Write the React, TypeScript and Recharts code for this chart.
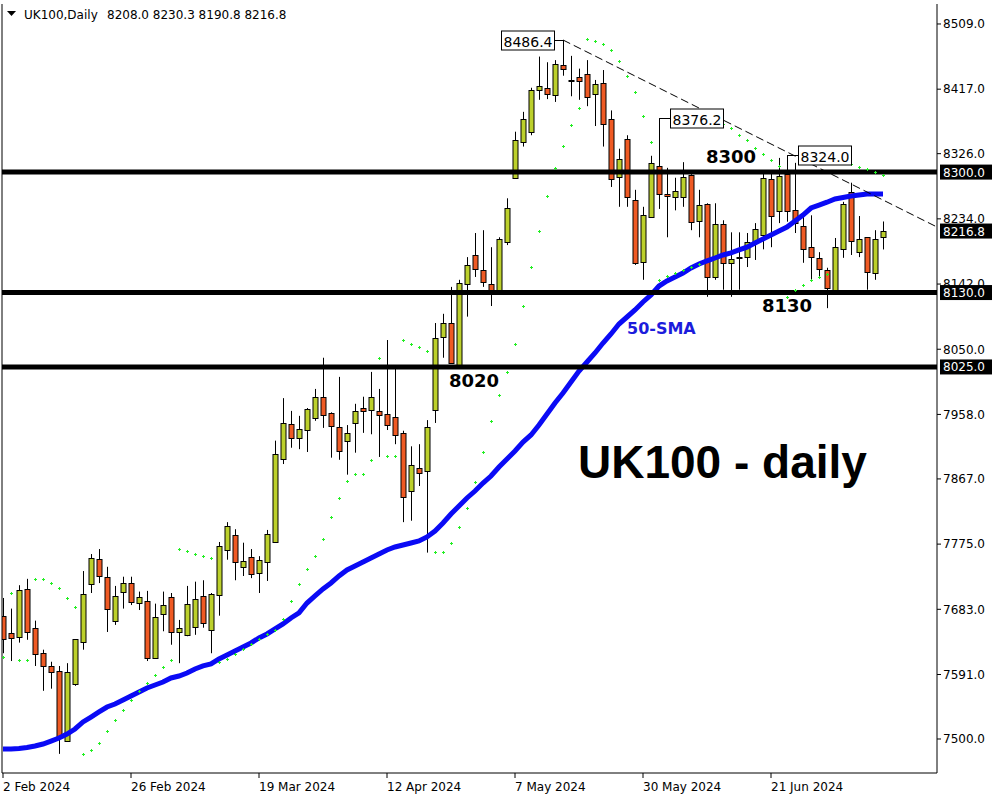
import React from 'react';
import {
  ComposedChart,
  Bar,
  Line,
  Scatter,
  XAxis,
  YAxis,
  ReferenceLine,
  ReferenceDot,
} from 'recharts';

// daily candles, 2 Feb 2024 onwards (one entry per trading day)
const opens = [
  7674, 7650, 7644, 7712, 7657, 7621, 7603, 7596, 7497, 7578,
  7637, 7720, 7754, 7729, 7667, 7708, 7720, 7692, 7695, 7614,
  7676, 7700, 7651, 7647, 7658, 7702, 7654, 7703, 7767, 7788,
  7743, 7757, 7734, 7750, 7778, 7895, 7945, 7926, 7936, 7954,
  7982, 7960, 7940, 7921, 7946, 7967, 7963, 7963, 7959, 7954,
  7932, 7850, 7882, 7878, 7964, 8067, 8087, 8028, 8142, 8183,
  8162, 8142, 8134, 8201, 8292, 8343, 8357, 8417, 8419, 8409,
  8451, 8430, 8434, 8439, 8410, 8426, 8375, 8293, 8347, 8261,
  8172, 8237, 8309, 8269, 8265, 8265, 8296, 8231, 8255, 8152,
  8227, 8172, 8180, 8180, 8201, 8211, 8290, 8245, 8297, 8247,
  8224, 8194, 8179, 8162, 8134, 8191, 8272, 8187, 8208, 8158,
  8208.0,
];
const highs = [
  7699, 7684, 7717, 7726, 7667, 7626, 7609, 7603, 7607, 7641,
  7737, 7761, 7768, 7743, 7716, 7729, 7729, 7708, 7709, 7691,
  7708, 7706, 7668, 7716, 7722, 7724, 7706, 7778, 7806, 7796,
  7777, 7768, 7758, 7795, 7921, 7981, 7963, 7956, 7967, 7994,
  8038, 7961, 8011, 7943, 7973, 7983, 8018, 7994, 8063, 8024,
  7935, 7913, 7916, 7950, 8087, 8100, 8138, 8148, 8180, 8214,
  8218, 8194, 8208, 8263, 8357, 8385, 8419, 8463, 8455, 8458,
  8486.4, 8464, 8446, 8458, 8430, 8444, 8387, 8333, 8352, 8275,
  8251, 8323, 8376.2, 8306, 8292, 8314, 8297, 8275, 8256, 8256,
  8232, 8215, 8215, 8214, 8228, 8299, 8299, 8320, 8324.0, 8313,
  8237, 8239, 8187, 8165, 8207, 8258, 8285, 8238, 8208, 8218,
  8230.3,
];
const lows = [
  7621, 7610, 7636, 7640, 7603, 7568, 7571, 7479, 7496, 7575,
  7626, 7706, 7720, 7651, 7661, 7684, 7689, 7682, 7610, 7613,
  7652, 7633, 7607, 7645, 7647, 7657, 7621, 7674, 7753, 7724,
  7730, 7727, 7706, 7723, 7778, 7888, 7911, 7909, 7905, 7949,
  7939, 7897, 7894, 7873, 7904, 7932, 7930, 7898, 7936, 7916,
  7806, 7808, 7857, 7763, 7946, 8038, 8031, 8028, 8096, 8152,
  8138, 8111, 8129, 8197, 8292, 8336, 8352, 8402, 8403, 8399,
  8436, 8407, 8402, 8393, 8365, 8336, 8279, 8251, 8251, 8169,
  8148, 8237, 8248, 8208, 8246, 8251, 8218, 8208, 8124, 8148,
  8134, 8124, 8134, 8166, 8176, 8191, 8194, 8228, 8230, 8214,
  8172, 8148, 8152, 8108, 8130, 8179, 8183, 8180, 8134, 8148,
  8190.8,
];
const closes = [
  7641, 7643, 7710, 7651, 7621, 7603, 7595, 7504, 7595, 7641,
  7705, 7756, 7730, 7684, 7702, 7720, 7693, 7700, 7614, 7672,
  7689, 7650, 7657, 7691, 7698, 7664, 7705, 7772, 7801, 7750,
  7751, 7733, 7753, 7789, 7902, 7946, 7925, 7938, 7966, 7983,
  7957, 7942, 7906, 7932, 7963, 7963, 7982, 7957, 7943, 7928,
  7842, 7887, 7875, 7940, 8066, 8087, 8031, 8144, 8169, 8163,
  8145, 8134, 8206, 8249, 8345, 8375, 8416, 8422, 8410, 8453,
  8446, 8429, 8429, 8406, 8424, 8368, 8290, 8319, 8265, 8172,
  8239, 8313, 8269, 8266, 8273, 8293, 8229, 8253, 8152, 8227,
  8172, 8178, 8178, 8201, 8220, 8292, 8238, 8295, 8245, 8228,
  8191, 8180, 8163, 8137, 8194, 8255, 8203, 8206, 8158, 8206,
  8216.8,
];
const sma50 = [
  7485.9, 7485.9, 7486.6, 7488.0, 7490.1, 7492.9, 7497.1, 7501.4, 7507.0, 7514.1,
  7524.0, 7531.0, 7538.1, 7545.1, 7549.4, 7555.0, 7560.7, 7566.3, 7572.0, 7576.2,
  7580.4, 7586.1, 7588.9, 7593.1, 7598.8, 7603.1, 7605.9, 7613.0, 7618.6, 7624.3,
  7629.9, 7635.5, 7642.6, 7648.2, 7655.3, 7662.4, 7670.8, 7677.9, 7691.9, 7701.8,
  7711.7, 7720.2, 7730.1, 7738.5, 7744.2, 7749.8, 7755.5, 7761.1, 7766.8, 7771.0,
  7773.8, 7776.6, 7779.4, 7785.1, 7793.5, 7804.8, 7817.5, 7828.8, 7840.1, 7849.9,
  7861.2, 7871.1, 7883.8, 7895.1, 7906.4, 7919.1, 7929.0, 7943.1, 7958.6, 7974.2,
  7988.3, 8003.8, 8019.3, 8032.0, 8044.7, 8058.8, 8071.5, 8085.6, 8095.5, 8105.4,
  8116.7, 8126.6, 8139.2, 8146.3, 8151.9, 8157.6, 8164.7, 8170.4, 8174.6, 8178.8,
  8183.0, 8185.9, 8190.1, 8194.1, 8199.9, 8205.6, 8211.2, 8216.8, 8222.4, 8230.9,
  8239.4, 8249.3, 8253.3, 8257.5, 8262.1, 8264.2, 8266.3, 8267.8, 8269.1, 8269.1,
  8269.1,
];
const sar = [
  7615.8, 7706.1, 7611.5, 7611.5, 7725.8, 7725.8, 7720.2, 7713.1, 7699.0, 7686.3,
  7478.8, 7484.4, 7494.3, 7511.2, 7526.8, 7540.9, 7555.0, 7567.7, 7579.0, 7590.3,
  7601.6, 7611.5, 7768.2, 7765.4, 7761.1, 7758.3, 7755.5, 7608.7, 7613.0, 7620.0,
  7627.1, 7634.1, 7641.2, 7648.2, 7653.9, 7669.4, 7694.8, 7718.8, 7740.0, 7758.3,
  7782.3, 7813.3, 7840.1, 7864.1, 7874.0, 7874.0, 7893.7, 8037.7, 7899.3, 7899.3,
  8063.1, 8057.4, 8053.2, 8047.5, 7763.9, 7763.9, 7776.6, 7799.2, 7826.0, 7862.7,
  7905.0, 7948.8, 7985.5, 8018.0, 8057.4, 8111.0, 8166.1, 8216.9, 8266.3, 8305.8,
  8336.8, 8366.5, 8390.4, 8487.9, 8485.1, 8480.8, 8472.3, 8456.8, 8435.6, 8413.1,
  8379.2, 8342.6, 8147.8, 8153.4, 8157.6, 8161.8, 8166.1, 8170.4, 8377.8, 8373.6,
  8367.9, 8362.3, 8352.4, 8345.4, 8334.0, 8325.6, 8317.1, 8308.6, 8123.7, 8133.6,
  8140.6, 8147.8, 8151.9, 8156.1, 8321.3, 8314.2, 8311.4, 8307.2, 8304.4, 8300.1,
  8295.9,
];

const dateTicks = [0, 16, 32, 48, 64, 80, 96];
const dateLabels = ['2 Feb 2024', '26 Feb 2024', '19 Mar 2024', '12 Apr 2024', '7 May 2024', '30 May 2024', '21 Jun 2024'];
const priceTicks = [7500, 7591, 7683, 7775, 7867, 7958, 8050, 8142, 8234, 8326, 8417, 8509];

const levels = [8300, 8130, 8025];
const levelTags = ['8300', '8130', '8020'];
const lastPrice = 8216.8;

// highs that carry a price callout
const callouts = [
  { i: 70, side: 'left' },
  { i: 82, side: 'right' },
  { i: 98, side: 'right' },
];
const trendStart = { x: 70, y: 8486.4 };
const trendEnd = { x: 116.75, y: 8222.5 };

const BULL = '#bcd02c';
const BEAR = '#ef5a24';
const FONT = 'DejaVu Sans, Verdana, sans-serif';

const rows = opens.map((o, i) => ({
  i,
  open: o,
  high: highs[i],
  low: lows[i],
  close: closes[i],
  range: [lows[i], highs[i]],
  sma: sma50[i],
  sar: sar[i],
}));

const Candle = (props: any) => {
  const { x, y, width, height, payload } = props;
  if (!payload) return null;
  const top = Math.min(y, y + height);
  const span = Math.abs(height);
  const cx = Math.round(x + width / 2) + 0.5;
  const { open, close, high, low } = payload;
  const toY = (v: number) => top + (high === low ? 0 : ((high - v) / (high - low)) * span);
  const yo = toY(open);
  const yc = toY(close);
  const bodyTop = Math.round(Math.min(yo, yc)) + 0.5;
  const bodyH = Math.max(Math.round(Math.abs(yc - yo)), 0);
  return (
    <g>
      <line x1={cx} x2={cx} y1={top} y2={top + span} stroke="#000" strokeWidth={1} />
      <rect
        x={cx - 2.5}
        y={bodyTop}
        width={5}
        height={bodyH}
        fill={close >= open ? BULL : BEAR}
        stroke="#000"
        strokeWidth={1}
      />
    </g>
  );
};

const SarDot = (props: any) => {
  const { cx, cy } = props;
  if (cx == null || cy == null) return null;
  const x = Math.round(cx);
  const y = Math.round(cy);
  return (
    <g fill="#22ee22">
      <rect x={x - 1} y={y} width={3} height={1} />
      <rect x={x} y={y - 1} width={1} height={3} />
    </g>
  );
};

const axisBox = (vb: any, text: string) => {
  const x = vb.x + vb.width + 3;
  const y = vb.y;
  return (
    <g>
      <rect x={x} y={y - 7.5} width={52} height={15} fill="#000" />
      <text x={x + 3} y={y + 4.5} fill="#fff" fontSize={12} fontFamily={FONT}>
        {text}
      </text>
    </g>
  );
};

const tagPos = [
  { dx: 704, dy: -9 },
  { dx: 760, dy: 19 },
  { dx: 447, dy: 20 },
];

const XTick = (props: any) => {
  const { x, y, payload } = props;
  const k = dateTicks.indexOf(payload.value);
  return (
    <text x={Math.round(x)} y={y + 11} fontSize={12} fontFamily={FONT} fill="#000" textAnchor="start">
      {dateLabels[k]}
    </text>
  );
};

const Callout = (props: any) => {
  const { cx, cy, side, label } = props;
  const x0 = Math.round(cx) + 0.5;
  const y0 = Math.round(cy) + 0.5;
  const lead = side === 'left' ? 9 : 11;
  const bx = side === 'left' ? x0 - lead - 53 : x0 + lead;
  const lx = side === 'left' ? x0 - lead : x0 + lead;
  return (
    <g>
      <line x1={x0} x2={lx} y1={y0} y2={y0} stroke="#000" strokeWidth={1} />
      <rect x={bx} y={y0 - 9.5} width={53} height={19} fill="#fff" stroke="#000" strokeWidth={1} />
      <text x={bx + 2} y={y0 + 6} fontSize={14} fontFamily={FONT} fill="#000">
        {label}
      </text>
    </g>
  );
};

export default function App() {
  return (
    <div style={{ position: 'absolute', left: 0, top: 0, width: 1000, height: 800, background: '#fff' }}>
      <ComposedChart width={1000} height={800} data={rows} margin={{ top: 4, right: 0, bottom: 0, left: 2 }}>
        <XAxis
          dataKey="i"
          type="number"
          domain={[-0.125, 116.75]}
          allowDataOverflow
          ticks={dateTicks}
          interval={0}
          height={27}
          tickSize={5}
          axisLine={{ stroke: '#000' }}
          tickLine={{ stroke: '#000' }}
          tick={<XTick />}
        />
        <YAxis
          orientation="right"
          type="number"
          domain={[7452.0, 8537.2]}
          allowDataOverflow
          ticks={priceTicks}
          interval={0}
          width={63}
          tickSize={4}
          tickMargin={2}
          tickFormatter={(v: number) => v.toFixed(1)}
          axisLine={{ stroke: '#000' }}
          tickLine={{ stroke: '#000' }}
          tick={{ fill: '#000', fontSize: 12, fontFamily: FONT }}
        />
        <ReferenceLine x={-0.125} stroke="#000" ifOverflow="visible" />
        <Bar dataKey="range" barSize={5} shape={<Candle />} isAnimationActive={false} />
        <Line
          dataKey="sma"
          type="linear"
          stroke="#0a0af5"
          strokeWidth={5}
          dot={false}
          activeDot={false}
          isAnimationActive={false}
        />
        <Scatter dataKey="sar" shape={<SarDot />} isAnimationActive={false} />
        {levels.map((lv, k) => (
          <ReferenceLine
            key={lv}
            y={lv}
            stroke="#000"
            strokeWidth={5}
            label={(p: any) => (
              <g>
                {axisBox(p.viewBox, lv.toFixed(1))}
                <text
                  x={p.viewBox.x + tagPos[k].dx}
                  y={p.viewBox.y + tagPos[k].dy}
                  fontSize={18}
                  fontWeight="bold"
                  fontFamily={FONT}
                  fill="#000"
                >
                  {levelTags[k]}
                </text>
              </g>
            )}
          />
        ))}
        <ReferenceLine y={lastPrice} stroke="none" label={(p: any) => axisBox(p.viewBox, lastPrice.toFixed(1))} />
        <ReferenceLine
          segment={[trendStart, trendEnd]}
          stroke="#000"
          strokeWidth={1}
          strokeDasharray="8 4"
          ifOverflow="visible"
        />
        {callouts.map((c) => (
          <ReferenceDot
            key={c.i}
            x={c.i}
            y={highs[c.i]}
            r={0}
            ifOverflow="visible"
            shape={(p: any) => <Callout {...p} side={c.side} label={highs[c.i].toFixed(1)} />}
          />
        ))}
      </ComposedChart>
      <svg width={1000} height={800} style={{ position: 'absolute', left: 0, top: 0, pointerEvents: 'none' }}>
        <polygon points="7,11 16,11 11.5,16" fill="#000" />
        <text x={24} y={19} fontSize={12} fontFamily={FONT} fill="#000">
          UK100,Daily
        </text>
        <text x={107} y={19} fontSize={12} fontFamily={FONT} fill="#000">
          8208.0 8230.3 8190.8 8216.8
        </text>
        <text x={627} y={334} fontSize={16} fontWeight="bold" fontFamily={FONT} fill="#1c1cdc">
          50-SMA
        </text>
        <text x={578} y={478} fontSize={46} fontWeight="bold" fontFamily="Liberation Sans, Arial, sans-serif" fill="#000">
          UK100 - daily
        </text>
      </svg>
    </div>
  );
}
